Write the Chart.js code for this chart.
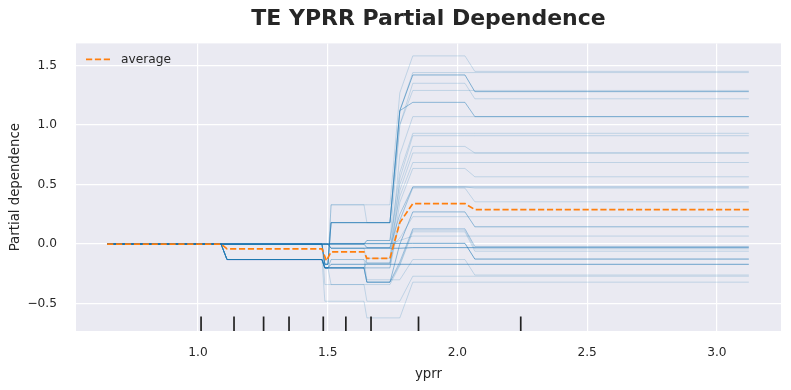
<!DOCTYPE html>
<html>
<head>
<meta charset="utf-8">
<script src="https://cdn.jsdelivr.net/npm/chart.js@4.4.0/dist/chart.umd.min.js"></script>
<style>
  html, body { margin: 0; padding: 0; background: #fff; }
</style>
</head>
<body>
<canvas id="pdChart" width="791" height="390"></canvas>
<script>
// yprr values where the ICE curves step (tree split edges)
const iceGrid = [0.65, 1.089, 1.112, 1.478, 1.489, 1.501, 1.513, 1.640, 1.651, 1.740, 1.778, 1.828, 2.029, 2.067, 3.123];

// level of every ICE curve on each step
const levelA    = [0, 0, 0, 0, 0, 0, -0.13, 0, -0.13, 0, -0.13, 0, -0.13, 0, -0.13, 0, -0.13, 0, -0.13, 0, -0.13, 0, 0, 0, -0.13, -0.13, 0, -0.13];
const levelDip  = [-0.17, -0.17, -0.17, 0, -0.17, -0.17, -0.2, 0, -0.2, 0, -0.2, 0, -0.2, 0, -0.2, 0, -0.2, 0, -0.2, -0.2, -0.2, 0, 0, 0, -0.2, -0.2, -0.34, -0.48];
const levelB    = [0.33, 0.18, 0.33, 0, 0.18, 0.18, -0.2, 0, -0.2, 0, -0.13, -0.035, -0.2, 0, -0.2, -0.035, -0.2, 0, -0.2, -0.2, -0.34, 0, 0.005, -0.035, -0.17, -0.13, -0.34, -0.48];
const levelC    = [0.33, 0.18, 0.18, 0.03, 0.18, 0.18, -0.12, 0.03, -0.16, 0.03, -0.16, -0.03, -0.2, -0.03, -0.2, -0.16, -0.32, -0.03, -0.32, -0.32, -0.34, 0, 0.005, -0.035, -0.17, -0.3, -0.48, -0.62];
const levelRise = [1.27, 1.12, 1.0, 1.0, 1.12, 1.12, 0.75, 0.6, 0.55, 0.5, 0.45, 0.4, 0.35, 0.25, 0.2, 0.2, 0.0, 0.05, -0.15, -0.17, -0.18, 0.03, 0.005, -0.035, -0.17, -0.3, -0.48, -0.62];
const levelPeak = [1.58, 1.42, 1.35, 1.29, 1.44, 1.19, 1.07, 0.93, 0.91, 0.82, 0.765, 0.685, 0.635, 0.48, 0.48, 0.47, 0.27, 0.23, 0.128, 0.117, 0.103, 0.067, 0.006, -0.03, -0.17, -0.13, -0.27, -0.32];
const levelEnd  = [1.45, 1.28, 1.22, 1.29, 1.44, 1.07, 1.07, 0.93, 0.91, 0.765, 0.765, 0.685, 0.565, 0.48, 0.47, 0.355, 0.145, 0.23, -0.02, -0.04, -0.06, 0.067, -0.126, -0.03, -0.17, -0.26, -0.27, -0.32];
// how many samples share each curve (makes the line darker)
const curveCount = [1, 4, 1, 1, 1, 3, 1, 1, 1, 1, 1, 1, 1, 2, 1, 1, 3, 1, 2, 1, 1, 1, 6, 6, 6, 1, 1, 1];

// average (partial dependence) curve
const avgX = [0.65, 1.089, 1.112, 1.478, 1.495, 1.513, 1.640, 1.651, 1.740, 1.755, 1.778, 1.828, 2.029, 2.067, 3.123];
const avgY = [0, 0, -0.04, -0.04, -0.14, -0.065, -0.065, -0.12, -0.12, 0.0, 0.18, 0.34, 0.34, 0.29, 0.29];

// deciles of yprr (rug marks)
const deciles = [1.012, 1.139, 1.253, 1.351, 1.483, 1.570, 1.667, 1.850, 2.244];

const xMin = 0.53, xMax = 3.247;
const yMin = -0.73, yMax = 1.685;

const font = 'DejaVu Sans';
const textColor = '#262626';
const blue = [31, 119, 180];
const orange = '#ff7f0e';

const datasets = [];

datasets.push({
  label: 'average',
  data: avgX.map((x, i) => ({ x: x, y: avgY[i] })),
  borderColor: orange,
  borderWidth: 1.7,
  borderDash: [6.2, 2.7],
  pointRadius: 0,
  order: 0
});

deciles.forEach(d => {
  datasets.push({
    label: 'decile',
    data: [{ x: d, y: yMin }, { x: d, y: yMin + 0.05 * (yMax - yMin) }],
    borderColor: '#222',
    borderWidth: 1.7,
    pointRadius: 0,
    order: 1
  });
});

for (let i = 0; i < levelEnd.length; i++) {
  const a = levelA[i], d = levelDip[i], b = levelB[i], c = levelC[i];
  const ys = [0, 0, a, a, d, d, b, b, c, c, levelRise[i], levelPeak[i], levelPeak[i], levelEnd[i], levelEnd[i]];
  const alpha = 1 - Math.pow(0.7, curveCount[i]);
  datasets.push({
    label: 'ice',
    data: iceGrid.map((x, k) => ({ x: x, y: ys[k] })),
    borderColor: `rgba(${blue[0]},${blue[1]},${blue[2]},${alpha.toFixed(3)})`,
    borderWidth: 0.7,
    pointRadius: 0,
    order: 2
  });
}

// grey plot background like seaborn darkgrid
const plotBackground = {
  id: 'plotBackground',
  beforeDraw(chart) {
    const { ctx, chartArea: a } = chart;
    ctx.save();
    ctx.fillStyle = '#eaeaf2';
    ctx.fillRect(a.left, a.top, a.right - a.left, a.bottom - a.top);
    ctx.restore();
  }
};

// center the title over the axes, not the whole canvas
const centerTitle = {
  id: 'centerTitle',
  afterLayout(chart) {
    const t = chart.titleBlock, a = chart.chartArea;
    t.left = a.left;
    t.right = a.right;
    t.width = a.right - a.left;
  }
};

const avgLegend = {
  id: 'avgLegend',
  afterDatasetsDraw(chart) {
    const { ctx, chartArea: a } = chart;
    const y = a.top + 16;
    ctx.save();
    ctx.strokeStyle = orange;
    ctx.lineWidth = 1.7;
    ctx.setLineDash([6.2, 2.7]);
    ctx.beginPath();
    ctx.moveTo(a.left + 10, y);
    ctx.lineTo(a.left + 34, y);
    ctx.stroke();
    ctx.setLineDash([]);
    ctx.fillStyle = textColor;
    ctx.font = '12.2px "' + font + '"';
    ctx.textBaseline = 'middle';
    ctx.fillText('average', a.left + 45, y);
    ctx.restore();
  }
};

new Chart(document.getElementById('pdChart'), {
  type: 'line',
  data: { datasets: datasets },
  plugins: [plotBackground, centerTitle, avgLegend],
  options: {
    responsive: false,
    animation: false,
    devicePixelRatio: 1,
    layout: { padding: { left: 0, right: 10, top: 0, bottom: 0 } },
    elements: { line: { tension: 0, fill: false, borderJoinStyle: 'round' } },
    plugins: {
      legend: { display: false },
      tooltip: { enabled: false },
      title: {
        display: true,
        text: 'TE YPRR Partial Dependence',
        color: textColor,
        font: { family: font, size: 22, weight: 'bold' },
        padding: { top: 6, bottom: 11 }
      }
    },
    scales: {
      x: {
        type: 'linear',
        min: xMin,
        max: xMax,
        afterFit: s => { s.height = 59; },
        border: { display: false },
        grid: { color: '#ffffff', lineWidth: 1.2, drawTicks: false },
        ticks: {
          stepSize: 0.5,
          includeBounds: false,
          padding: 15,
          color: textColor,
          font: { family: font, size: 12.2 },
          callback: v => v.toFixed(1)
        },
        title: {
          display: true,
          text: 'yprr',
          color: textColor,
          font: { family: font, size: 13.3 },
          padding: { top: 0, bottom: 7 }
        }
      },
      y: {
        type: 'linear',
        min: yMin,
        max: yMax,
        afterFit: s => { s.width = 76; },
        border: { display: false },
        grid: { color: '#ffffff', lineWidth: 1.2, drawTicks: false },
        ticks: {
          stepSize: 0.5,
          includeBounds: false,
          padding: 19,
          color: textColor,
          font: { family: font, size: 12.2 },
          callback: v => (v < 0 ? '\u2212' : '') + Math.abs(v).toFixed(1)
        },
        title: {
          display: true,
          text: 'Partial dependence',
          color: textColor,
          font: { family: font, size: 13.3 },
          padding: { top: 8, bottom: 0 }
        }
      }
    }
  }
});
</script>
</body>
</html>
